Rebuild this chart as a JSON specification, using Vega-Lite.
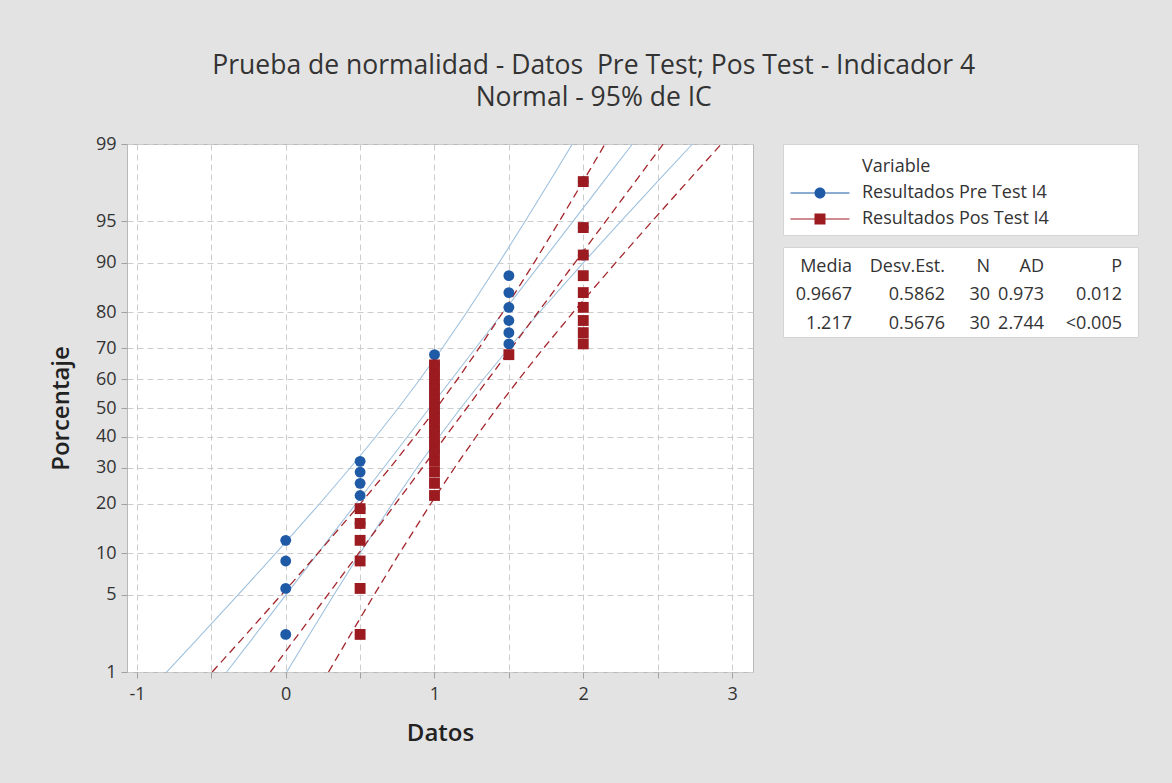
{
  "$schema": "https://vega.github.io/schema/vega-lite/v6.json",
  "background": "#e3e3e3",
  "padding": {"left": 48, "top": 52, "right": 34, "bottom": 37},
  "title": {
    "text": "Prueba de normalidad - Datos \u00a0Pre Test; Pos Test - Indicador 4",
    "subtitle": "Normal - 95% de IC",
    "anchor": "middle",
    "frame": "bounds",
    "font": "Open Sans",
    "subtitleFont": "Open Sans",
    "fontSize": 26.5,
    "subtitleFontSize": 26.5,
    "fontWeight": "normal",
    "color": "#333333",
    "subtitleColor": "#333333",
    "subtitlePadding": 6,
    "offset": 23
  },
  "datasets": {
    "puntos": [
      {"variable": "Resultados Pre Test I4", "datos": 0, "z": -1.995},
      {"variable": "Resultados Pre Test I4", "datos": 0, "z": -1.59},
      {"variable": "Resultados Pre Test I4", "datos": 0, "z": -1.348},
      {"variable": "Resultados Pre Test I4", "datos": 0, "z": -1.166},
      {"variable": "Resultados Pre Test I4", "datos": 0.5, "z": -1.017},
      {"variable": "Resultados Pre Test I4", "datos": 0.5, "z": -0.887},
      {"variable": "Resultados Pre Test I4", "datos": 0.5, "z": -0.771},
      {"variable": "Resultados Pre Test I4", "datos": 0.5, "z": -0.664},
      {"variable": "Resultados Pre Test I4", "datos": 0.5, "z": -0.565},
      {"variable": "Resultados Pre Test I4", "datos": 0.5, "z": -0.47},
      {"variable": "Resultados Pre Test I4", "datos": 1, "z": -0.38},
      {"variable": "Resultados Pre Test I4", "datos": 1, "z": -0.293},
      {"variable": "Resultados Pre Test I4", "datos": 1, "z": -0.208},
      {"variable": "Resultados Pre Test I4", "datos": 1, "z": -0.124},
      {"variable": "Resultados Pre Test I4", "datos": 1, "z": -0.041},
      {"variable": "Resultados Pre Test I4", "datos": 1, "z": 0.041},
      {"variable": "Resultados Pre Test I4", "datos": 1, "z": 0.124},
      {"variable": "Resultados Pre Test I4", "datos": 1, "z": 0.208},
      {"variable": "Resultados Pre Test I4", "datos": 1, "z": 0.293},
      {"variable": "Resultados Pre Test I4", "datos": 1, "z": 0.38},
      {"variable": "Resultados Pre Test I4", "datos": 1, "z": 0.47},
      {"variable": "Resultados Pre Test I4", "datos": 1.5, "z": 0.565},
      {"variable": "Resultados Pre Test I4", "datos": 1.5, "z": 0.664},
      {"variable": "Resultados Pre Test I4", "datos": 1.5, "z": 0.771},
      {"variable": "Resultados Pre Test I4", "datos": 1.5, "z": 0.887},
      {"variable": "Resultados Pre Test I4", "datos": 1.5, "z": 1.017},
      {"variable": "Resultados Pre Test I4", "datos": 1.5, "z": 1.166},
      {"variable": "Resultados Pre Test I4", "datos": 2, "z": 1.348},
      {"variable": "Resultados Pre Test I4", "datos": 2, "z": 1.59},
      {"variable": "Resultados Pre Test I4", "datos": 2, "z": 1.995},
      {"variable": "Resultados Pos Test I4", "datos": 0.5, "z": -1.995},
      {"variable": "Resultados Pos Test I4", "datos": 0.5, "z": -1.59},
      {"variable": "Resultados Pos Test I4", "datos": 0.5, "z": -1.348},
      {"variable": "Resultados Pos Test I4", "datos": 0.5, "z": -1.166},
      {"variable": "Resultados Pos Test I4", "datos": 0.5, "z": -1.017},
      {"variable": "Resultados Pos Test I4", "datos": 0.5, "z": -0.887},
      {"variable": "Resultados Pos Test I4", "datos": 1, "z": -0.771},
      {"variable": "Resultados Pos Test I4", "datos": 1, "z": -0.664},
      {"variable": "Resultados Pos Test I4", "datos": 1, "z": -0.565},
      {"variable": "Resultados Pos Test I4", "datos": 1, "z": -0.47},
      {"variable": "Resultados Pos Test I4", "datos": 1, "z": -0.38},
      {"variable": "Resultados Pos Test I4", "datos": 1, "z": -0.293},
      {"variable": "Resultados Pos Test I4", "datos": 1, "z": -0.208},
      {"variable": "Resultados Pos Test I4", "datos": 1, "z": -0.124},
      {"variable": "Resultados Pos Test I4", "datos": 1, "z": -0.041},
      {"variable": "Resultados Pos Test I4", "datos": 1, "z": 0.041},
      {"variable": "Resultados Pos Test I4", "datos": 1, "z": 0.124},
      {"variable": "Resultados Pos Test I4", "datos": 1, "z": 0.208},
      {"variable": "Resultados Pos Test I4", "datos": 1, "z": 0.293},
      {"variable": "Resultados Pos Test I4", "datos": 1, "z": 0.38},
      {"variable": "Resultados Pos Test I4", "datos": 1.5, "z": 0.47},
      {"variable": "Resultados Pos Test I4", "datos": 2, "z": 0.565},
      {"variable": "Resultados Pos Test I4", "datos": 2, "z": 0.664},
      {"variable": "Resultados Pos Test I4", "datos": 2, "z": 0.771},
      {"variable": "Resultados Pos Test I4", "datos": 2, "z": 0.887},
      {"variable": "Resultados Pos Test I4", "datos": 2, "z": 1.017},
      {"variable": "Resultados Pos Test I4", "datos": 2, "z": 1.166},
      {"variable": "Resultados Pos Test I4", "datos": 2, "z": 1.348},
      {"variable": "Resultados Pos Test I4", "datos": 2, "z": 1.59},
      {"variable": "Resultados Pos Test I4", "datos": 2, "z": 1.995}
    ],
    "lineas": [
      {"variable": "Pre", "z": -2.3263, "ajuste": -0.397, "inf": -0.8008, "sup": 0.0068},
      {"variable": "Pre", "z": -2.0537, "ajuste": -0.2372, "inf": -0.607, "sup": 0.1327},
      {"variable": "Pre", "z": -1.6449, "ajuste": 0.0025, "inf": -0.3193, "sup": 0.3242},
      {"variable": "Pre", "z": -1.2816, "ajuste": 0.2154, "inf": -0.0677, "sup": 0.4985},
      {"variable": "Pre", "z": -0.8416, "ajuste": 0.4734, "inf": 0.2292, "sup": 0.7175},
      {"variable": "Pre", "z": -0.5244, "ajuste": 0.6593, "inf": 0.4356, "sup": 0.883},
      {"variable": "Pre", "z": -0.2533, "ajuste": 0.8182, "inf": 0.6051, "sup": 1.0313},
      {"variable": "Pre", "z": 0, "ajuste": 0.9667, "inf": 0.7569, "sup": 1.1765},
      {"variable": "Pre", "z": 0.2533, "ajuste": 1.1152, "inf": 0.9021, "sup": 1.3283},
      {"variable": "Pre", "z": 0.5244, "ajuste": 1.2741, "inf": 1.0504, "sup": 1.4978},
      {"variable": "Pre", "z": 0.8416, "ajuste": 1.46, "inf": 1.2159, "sup": 1.7042},
      {"variable": "Pre", "z": 1.2816, "ajuste": 1.718, "inf": 1.4349, "sup": 2.0011},
      {"variable": "Pre", "z": 1.6449, "ajuste": 1.9309, "inf": 1.6092, "sup": 2.2527},
      {"variable": "Pre", "z": 2.0537, "ajuste": 2.1706, "inf": 1.8007, "sup": 2.5404},
      {"variable": "Pre", "z": 2.3263, "ajuste": 2.3304, "inf": 1.9266, "sup": 2.7342},
      {"variable": "Pos", "z": -2.3263, "ajuste": -0.1034, "inf": -0.4944, "sup": 0.2876},
      {"variable": "Pos", "z": -2.0537, "ajuste": 0.0513, "inf": -0.3068, "sup": 0.4095},
      {"variable": "Pos", "z": -1.6449, "ajuste": 0.2834, "inf": -0.0282, "sup": 0.5949},
      {"variable": "Pos", "z": -1.2816, "ajuste": 0.4896, "inf": 0.2155, "sup": 0.7637},
      {"variable": "Pos", "z": -0.8416, "ajuste": 0.7393, "inf": 0.503, "sup": 0.9757},
      {"variable": "Pos", "z": -0.5244, "ajuste": 0.9194, "inf": 0.7027, "sup": 1.136},
      {"variable": "Pos", "z": -0.2533, "ajuste": 1.0732, "inf": 0.8669, "sup": 1.2796},
      {"variable": "Pos", "z": 0, "ajuste": 1.217, "inf": 1.0139, "sup": 1.4201},
      {"variable": "Pos", "z": 0.2533, "ajuste": 1.3608, "inf": 1.1544, "sup": 1.5671},
      {"variable": "Pos", "z": 0.5244, "ajuste": 1.5147, "inf": 1.298, "sup": 1.7313},
      {"variable": "Pos", "z": 0.8416, "ajuste": 1.6947, "inf": 1.4583, "sup": 1.9311},
      {"variable": "Pos", "z": 1.2816, "ajuste": 1.9444, "inf": 1.6703, "sup": 2.2186},
      {"variable": "Pos", "z": 1.6449, "ajuste": 2.1507, "inf": 1.8391, "sup": 2.4622},
      {"variable": "Pos", "z": 2.0537, "ajuste": 2.3827, "inf": 2.0246, "sup": 2.7408},
      {"variable": "Pos", "z": 2.3263, "ajuste": 2.5374, "inf": 2.1464, "sup": 2.9284}
    ],
    "estadisticos": [
      {"fila": "encabezado", "columna": 1, "texto": "Media"},
      {"fila": "encabezado", "columna": 2, "texto": "Desv.Est."},
      {"fila": "encabezado", "columna": 3, "texto": "N"},
      {"fila": "encabezado", "columna": 4, "texto": "AD"},
      {"fila": "encabezado", "columna": 5, "texto": "P"},
      {"fila": "pre", "columna": 1, "texto": "0.9667"},
      {"fila": "pre", "columna": 2, "texto": "0.5862"},
      {"fila": "pre", "columna": 3, "texto": "30"},
      {"fila": "pre", "columna": 4, "texto": "0.973"},
      {"fila": "pre", "columna": 5, "texto": "0.012"},
      {"fila": "pos", "columna": 1, "texto": "1.217"},
      {"fila": "pos", "columna": 2, "texto": "0.5676"},
      {"fila": "pos", "columna": 3, "texto": "30"},
      {"fila": "pos", "columna": 4, "texto": "2.744"},
      {"fila": "pos", "columna": 5, "texto": "<0.005"}
    ]
  },
  "hconcat": [
    {
      "width": 626,
      "height": 528,
      "view": {"fill": "white", "stroke": "#b8b8b8", "strokeWidth": 1},
      "encoding": {
        "x": {
          "type": "quantitative",
          "scale": {"domain": [-1.067, 3.141], "nice": false, "zero": false},
          "axis": {
            "title": "Datos",
            "values": [-1, -0.5, 0, 0.5, 1, 1.5, 2, 2.5, 3],
            "labelExpr": "datum.value % 1 === 0 ? toString(datum.value) : ''",
            "labelPadding": 7,
            "titlePadding": 18
          }
        },
        "y": {
          "field": "z",
          "type": "quantitative",
          "scale": {"domain": [-2.3263, 2.3263], "nice": false, "zero": false},
          "axis": {
            "title": "Porcentaje",
            "values": [-2.3263, -1.6449, -1.2816, -0.8416, -0.5244, -0.2533, 0, 0.2533, 0.5244, 0.8416, 1.2816, 1.6449, 2.3263],
            "labelExpr": "format(cumulativeNormal(datum.value) * 100, '.0f')",
            "labelPadding": 5,
            "titlePadding": 22
          }
        }
      },
      "layer": [
        {
          "data": {"name": "lineas"},
          "transform": [
            {"filter": "datum.variable === 'Pre'"},
            {"fold": ["ajuste", "inf", "sup"], "as": ["curva", "valor"]}
          ],
          "mark": {"type": "line", "color": "#9fc1de", "strokeWidth": 1.1},
          "encoding": {
            "x": {"field": "valor", "type": "quantitative"},
            "detail": {"field": "curva"},
            "order": {"field": "z", "type": "quantitative"}
          }
        },
        {
          "data": {"name": "lineas"},
          "transform": [
            {"filter": "datum.variable === 'Pos'"},
            {"fold": ["ajuste", "inf", "sup"], "as": ["curva", "valor"]}
          ],
          "mark": {"type": "line", "color": "#a3262c", "strokeWidth": 1.3, "strokeDash": [8, 5]},
          "encoding": {
            "x": {"field": "valor", "type": "quantitative"},
            "detail": {"field": "curva"},
            "order": {"field": "z", "type": "quantitative"}
          }
        },
        {
          "data": {"name": "puntos"},
          "mark": {"type": "point", "filled": true, "opacity": 1, "size": 118, "strokeWidth": 0},
          "encoding": {
            "x": {"field": "datos", "type": "quantitative"},
            "color": {
              "field": "variable",
              "type": "nominal",
              "scale": {"domain": ["Resultados Pre Test I4", "Resultados Pos Test I4"], "range": ["#1f5aa6", "#9b1b20"]},
              "legend": null
            },
            "shape": {
              "field": "variable",
              "type": "nominal",
              "scale": {"domain": ["Resultados Pre Test I4", "Resultados Pos Test I4"], "range": ["circle", "square"]},
              "legend": null
            }
          }
        }
      ]
    },
    {
      "vconcat": [
        {
          "width": 355,
          "height": 91,
          "view": {"fill": "white", "stroke": "#d4d4d4"},
          "data": {"values": []},
          "mark": {"type": "point", "filled": true, "opacity": 1},
          "encoding": {
            "color": {
              "field": "variable",
              "type": "nominal",
              "scale": {"domain": ["Resultados Pre Test I4", "Resultados Pos Test I4"], "range": ["#1f5aa6", "#9b1b20"]},
              "legend": {
                "title": "Variable",
                "orient": "none",
                "legendX": 79,
                "legendY": 14,
                "symbolSize": 484,
                "symbolOpacity": 1,
                "symbolStrokeWidth": 0,
                "labelOffset": -22,
                "labelLimit": 400,
                "rowPadding": 6,
                "titlePadding": 6,
                "padding": 0,
                "labelFontSize": 18,
                "titleFontSize": 18,
                "titleFontWeight": "normal",
                "labelColor": "#333333",
                "titleColor": "#333333",
                "labelFont": "Open Sans",
                "titleFont": "Open Sans"
              }
            },
            "shape": {
              "field": "variable",
              "type": "nominal",
              "scale": {
                "domain": ["Resultados Pre Test I4", "Resultados Pos Test I4"],
                "range": [
                  "M-7.5,-0.05H-5.32V0.05H-7.5Z M-4.32,-0.05H-2.14V0.05H-4.32Z M-5.32,0A0.5,0.5,0,1,0,-4.32,0A0.5,0.5,0,1,0,-5.32,0Z",
                  "M-7.5,-0.05H-5.32V0.05H-7.5Z M-4.32,-0.05H-2.14V0.05H-4.32Z M-5.32,-0.5H-4.32V0.5H-5.32Z"
                ]
              }
            }
          }
        },
        {
          "width": 355,
          "height": 90,
          "view": {"fill": "white", "stroke": "#d4d4d4"},
          "data": {"name": "estadisticos"},
          "mark": {"type": "text", "align": "right", "baseline": "middle", "fontSize": 18, "font": "Open Sans", "color": "#333333"},
          "encoding": {
            "x": {
              "field": "columna",
              "type": "quantitative",
              "scale": {"domain": [1, 2, 3, 4, 5], "range": [69, 162, 207, 261, 339]},
              "axis": null
            },
            "y": {
              "field": "fila",
              "type": "nominal",
              "sort": ["encabezado", "pre", "pos"],
              "scale": {"type": "point", "padding": 0.58, "align": 0.6},
              "axis": null
            },
            "text": {"field": "texto"}
          }
        }
      ],
      "spacing": 10
    }
  ],
  "spacing": 30,
  "bounds": "flush",
  "resolve": {"scale": {"color": "independent", "shape": "independent"}},
  "config": {
    "font": "Open Sans",
    "axis": {
      "labelFont": "Open Sans",
      "labelFontSize": 18,
      "labelColor": "#333333",
      "titleFont": "Open Sans",
      "titleFontSize": 24,
      "titleFontWeight": 600,
      "titleColor": "#222222",
      "grid": true,
      "gridColor": "#cccccc",
      "gridDash": [6, 4],
      "gridWidth": 1,
      "domain": false,
      "tickColor": "#a0a0a0",
      "tickSize": 6
    }
  }
}
